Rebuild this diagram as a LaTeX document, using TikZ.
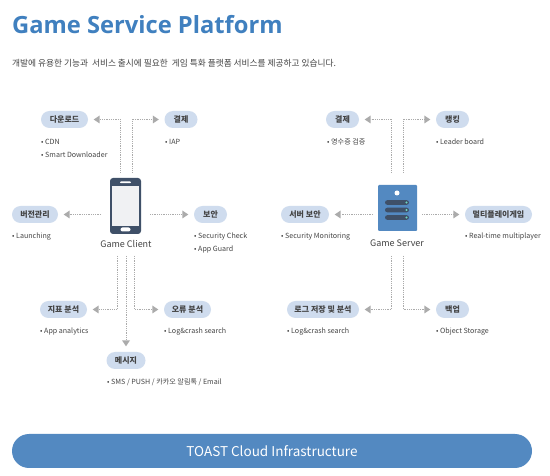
\documentclass[tikz,border=0pt]{standalone}
\usepackage{fontspec}
\setmainfont{Noto Sans CJK KR}
\newfontfamily\titlefont{Open Sans}
\usetikzlibrary{shapes.misc,arrows.meta}
\definecolor{pillc}{HTML}{CFDCEE}
\definecolor{bluec}{HTML}{5389C1}
\definecolor{titlec}{HTML}{4080BF}
\definecolor{darkc}{HTML}{3F5068}
\definecolor{textc}{HTML}{444444}
\definecolor{linec}{HTML}{ABABAB}
\definecolor{tealc}{HTML}{6FD6C0}
\tikzset{
  pill/.style={rounded rectangle,fill=pillc,inner sep=0pt,minimum height=17pt,text=textc,font=\fontsize{8}{9}\selectfont\bfseries},
  item/.style={anchor=west,inner sep=0pt,text=textc,font=\fontsize{7.1}{9}\selectfont},
  caption/.style={inner sep=0pt,text=textc,font=\fontsize{9}{11}\selectfont},
  link/.style={draw=linec,line width=.7pt,dash pattern=on .9pt off .9pt,shorten >=5.5pt,-{Triangle[length=6pt,width=8pt,fill=linec,sharp,line width=0pt]}},
}
\newcommand{\itemdot}{\textbullet\ }
\begin{document}
\begin{tikzpicture}[x=1pt,y=-1pt]
\useasboundingbox (0,0) rectangle (550,476);
\fill[white] (0,0) rectangle (550,476);
% heading
\node[anchor=west,inner sep=0pt,text=titlec,font=\titlefont\fontsize{23.7}{28}\selectfont\bfseries] (title) at (12,25) {Game Service Platform};
\node[anchor=west,inner sep=0pt,text=textc,font=\fontsize{8.7}{10}\selectfont] (sub) at (12,63) {개발에 유용한 기능과~ 서비스 출시에 필요한~ 게임 특화 플랫폼 서비스를 제공하고 있습니다.};
% phone icon
\node[rounded corners=3pt,fill=darkc,minimum width=31pt,minimum height=56pt,inner sep=0pt] (phone) at (125.5,206) {};
\node[fill=white!92!darkc,minimum width=27pt,minimum height=40pt,inner sep=0pt] (screen) at (125.5,206) {};
\node[rounded rectangle,fill=white,minimum width=11pt,minimum height=1.6pt,inner sep=0pt] (speaker) at (125.5,182.3) {};
\node[rounded rectangle,fill=white,minimum width=10pt,minimum height=4pt,inner sep=0pt] (homebtn) at (125.5,229.5) {};
\node[caption] (clientcap) at (126,243.5) {Game Client};
% server icon
\node[rounded corners=1pt,fill=bluec,minimum width=39pt,minimum height=46pt,inner sep=0pt] (server) at (397.5,208) {};
\node[circle,fill=white,minimum size=5pt,inner sep=0pt] (led) at (397,193) {};
\foreach \n/\yy in {a/202.5,b/210,c/217.5}{
  \node[rounded rectangle,fill=darkc,minimum width=24pt,minimum height=4.6pt,inner sep=0pt] (bar\n) at (397,\yy) {};
  \node[circle,fill=tealc,minimum size=2.2pt,inner sep=0pt] (dot\n) at (406.5,\yy) {};
}
\node[caption] (servercap) at (397,243.5) {Game Server};
% client pills
\node[pill,minimum width=47pt] (dl) at (64.5,119.5) {다운로드};
\node[pill,minimum width=33pt] (pay) at (181,119.5) {결제};
\node[pill,minimum width=46pt] (ver) at (35,214.5) {버전관리};
\node[pill,minimum width=33pt] (sec) at (210.5,214.5) {보안};
\node[pill,minimum width=47pt] (met) at (63.5,309.5) {지표 분석};
\node[pill,minimum width=47pt] (err) at (187.5,309.5) {오류 분석};
\node[pill,minimum width=39pt] (msg) at (126,360.5) {메시지};
% server pills
\node[pill,minimum width=33pt] (spay) at (342.5,119.5) {결제};
\node[pill,minimum width=33pt] (rank) at (452.5,119.5) {랭킹};
\node[pill,minimum width=48pt] (ssec) at (305,214.5) {서버 보안};
\node[pill,minimum width=67pt] (multi) at (498.5,214.5) {멀티플레이게임};
\node[pill,minimum width=72pt] (logp) at (323,309.5) {로그 저장 및 분석};
\node[pill,minimum width=33pt] (bak) at (452.5,309.5) {백업};
% items
\node[item] (i1) at (41,141.5) {\itemdot CDN};
\node[item] (i2) at (41,154.5) {\itemdot Smart Downloader};
\node[item] (i3) at (165,141.5) {\itemdot IAP};
\node[item] (i4) at (12,236.5) {\itemdot Launching};
\node[item] (i5) at (194,236.5) {\itemdot Security Check};
\node[item] (i6) at (194,249) {\itemdot App Guard};
\node[item] (i7) at (40,331.5) {\itemdot App analytics};
\node[item] (i8) at (164,331.5) {\itemdot Log\&crash search};
\node[item] (i9) at (107,382.5) {\itemdot SMS / PUSH / 카카오 알림톡 / Email};
\node[item] (j1) at (327,141.5) {\itemdot 영수증 검증};
\node[item] (j2) at (436,141.5) {\itemdot Leader board};
\node[item] (j3) at (281,236.5) {\itemdot Security Monitoring};
\node[item] (j4) at (465,236.5) {\itemdot Real-time multiplayer};
\node[item] (j5) at (287,331.5) {\itemdot Log\&crash search};
\node[item] (j6) at (436,331.5) {\itemdot Object Storage};
% connector free ends
\coordinate (c1) at (120,172.5);
\coordinate (c2) at (132,172.5);
\coordinate (c3) at (101,214.5);
\coordinate (c4) at (150,214.5);
\coordinate (c5) at (117,256);
\coordinate (c6) at (126,256);
\coordinate (c7) at (134.5,256);
\coordinate (s1) at (391.5,172.5);
\coordinate (s2) at (403,172.5);
\coordinate (s3) at (373,214.5);
\coordinate (s4) at (422,214.5);
\coordinate (s5) at (391.5,256);
\coordinate (s6) at (403,256);
% connectors
\draw[link] (c1) |- (dl.east);
\draw[link] (c2) |- (pay.west);
\draw[link] (c3) -- (ver.east);
\draw[link] (c4) -- (sec.west);
\draw[link] (c5) |- (met.east);
\draw[link] (c7) |- (err.west);
\draw[link] (c6) -- (msg.north);
\draw[link] (s1) |- (spay.east);
\draw[link] (s2) |- (rank.west);
\draw[link] (s3) -- (ssec.east);
\draw[link] (s4) -- (multi.west);
\draw[link] (s5) |- (logp.east);
\draw[link] (s6) |- (bak.west);
% bar
\node[rounded rectangle,fill=bluec,minimum width=520pt,minimum height=34pt,inner sep=0pt,text=white,font=\fontsize{13.5}{16}\selectfont] (infra) at (272,451) {TOAST Cloud Infrastructure};
\end{tikzpicture}
\end{document}
